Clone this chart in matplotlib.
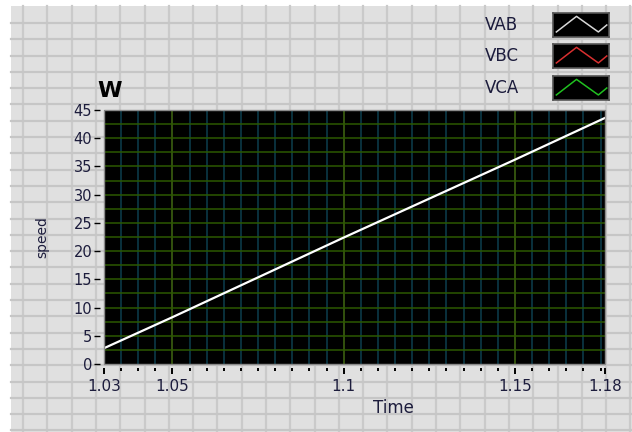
import numpy as np
import matplotlib
matplotlib.use('Agg')
import matplotlib.pyplot as plt
from matplotlib.patches import Rectangle
from matplotlib.ticker import FixedLocator, MultipleLocator, NullFormatter

# data (x axis ends at ~1.1763, shown as "1.18")
time = [1.03, 1.05, 1.10, 1.15, 1.1763]
speed = [2.8, 8.3, 22.4, 36.2, 43.6]
x_ticks = [1.03, 1.05, 1.1, 1.15, 1.1763]
x_labels = ['1.03', '1.05', '1.1', '1.15', '1.18']
series = ['VAB', 'VBC', 'VCA']
series_colors = ['#d8d8d8', '#d83030', '#20c020']

W, H = 632, 432
txt = '#1c1c3c'

fig = plt.figure(figsize=(W / 100, H / 100), dpi=100, facecolor='white')

# panel background with the light grid (pixel coords)
bg = fig.add_axes([0, 0, 1, 1])
bg.set_xlim(0, W)
bg.set_ylim(H, 0)
bg.axis('off')
bg.add_patch(Rectangle((11, 6), W - 11, H - 6, facecolor='#e0e0e0', edgecolor='none'))
for gx in np.arange(23, W, 24.3):
    bg.plot([gx, gx], [6, H], color='#cacaca', lw=1.6)
for gy in np.arange(23, H, 16.3):
    bg.plot([11, W], [gy, gy], color='#c6c6c6', lw=1.6)

# main graph
L, R, T, B = 104, 605, 110, 364
ax = fig.add_axes([L / W, 1 - B / H, (R - L) / W, (B - T) / H])
ax.set_facecolor('black')
ax.plot(time, speed, color='white', lw=1.6, zorder=5)
ax.set_xlim(1.03, 1.1763)
ax.set_ylim(0, 45)

ax.xaxis.set_major_locator(FixedLocator(x_ticks))
ax.set_xticklabels(x_labels)
ax.xaxis.set_minor_locator(MultipleLocator(0.005))
ax.xaxis.set_minor_formatter(NullFormatter())
ax.yaxis.set_major_locator(MultipleLocator(5))
ax.yaxis.set_minor_locator(MultipleLocator(2.5))

# grid: green horizontals, teal minor verticals, olive major verticals
for v in np.arange(1.035, 1.176, 0.005):
    ax.axvline(v, color='#0c3e4e', lw=1.1, zorder=1)
for v in [1.05, 1.1, 1.15]:
    ax.axvline(v, color='#3e5a00', lw=1.1, zorder=2)
for h in np.arange(2.5, 45, 2.5):
    ax.axhline(h, color='#2c5800', lw=1.1, zorder=2)

for s in ax.spines.values():
    s.set_visible(False)
ax.spines['left'].set_position(('outward', 3))
ax.spines['bottom'].set_position(('outward', 3))
ax.add_patch(Rectangle((0, 0), 1, 1, transform=ax.transAxes, fill=False,
                       edgecolor='#8a8a8a', lw=1.0, zorder=6, clip_on=False))

ax.tick_params(axis='x', which='major', length=4.5, width=1.4, color='black',
               labelsize=11, labelcolor=txt, pad=3)
ax.tick_params(axis='x', which='minor', length=2.5, width=1.4, color='black')
ax.tick_params(axis='y', which='major', length=4.5, width=1.0, color='black',
               labelsize=10.5, labelcolor=txt, pad=1)
ax.tick_params(axis='y', which='minor', length=0)

fig.text(393 / W, 1 - 408 / H, 'Time', fontsize=12, color=txt, ha='center', va='center')
fig.text(42 / W, 1 - 237 / H, 'speed', fontsize=10, color=txt, ha='center', va='center',
         rotation=90)
fig.text(110 / W, 1 - 91 / H, 'W', fontsize=16, fontweight='bold', color='black',
         ha='center', va='center')

# legend
box_tops = [13, 44, 76]
for name, col, top in zip(series, series_colors, box_tops):
    fig.text(485 / W, 1 - (top + 12) / H, name, fontsize=12, color=txt, ha='left', va='center')
    lax = fig.add_axes([553 / W, 1 - (top + 24) / H, 56 / W, 24 / H])
    lax.set_facecolor('black')
    lax.set_xlim(0, 1)
    lax.set_ylim(0, 1)
    lax.set_xticks([])
    lax.set_yticks([])
    for s in lax.spines.values():
        s.set_color('#555555')
        s.set_linewidth(1.2)
    lax.plot([0.06, 0.42, 0.81, 0.96], [0.21, 0.86, 0.21, 0.5], color=col, lw=1.1)

fig.savefig('out.png', dpi=100, facecolor='white')
